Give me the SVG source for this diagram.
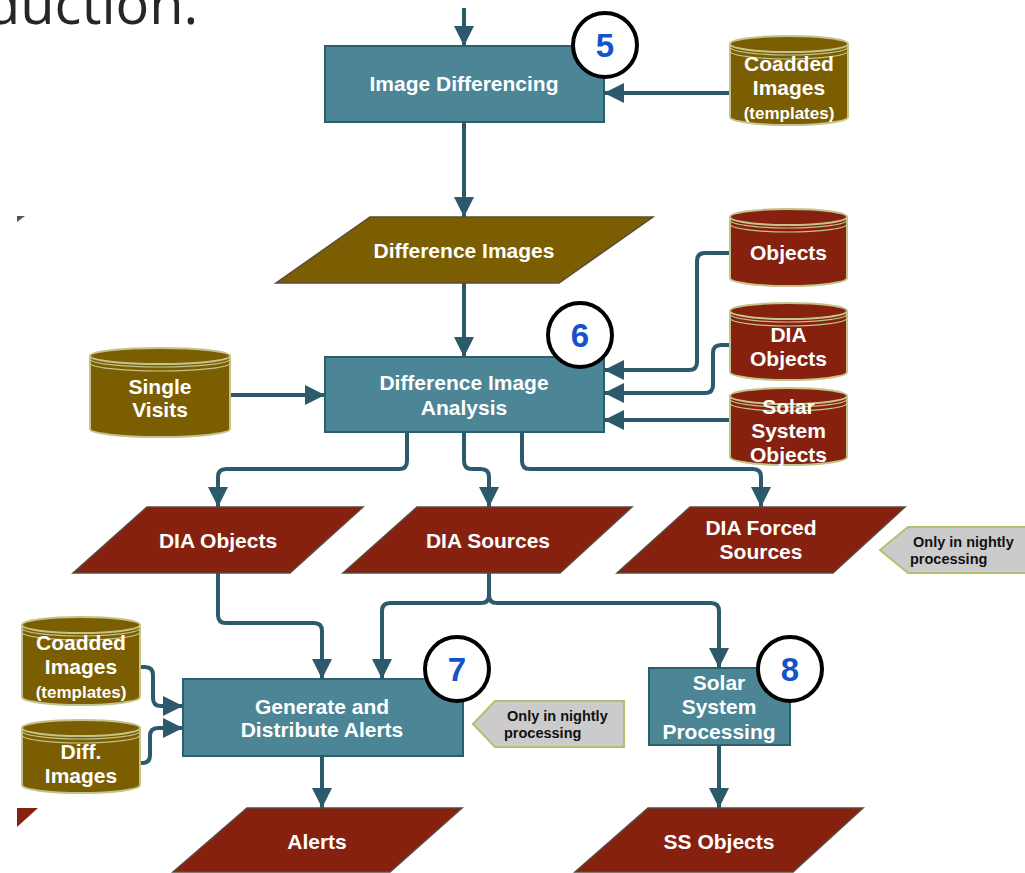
<svg xmlns="http://www.w3.org/2000/svg" width="1025" height="873" viewBox="0 0 1025 873">
<defs>
<marker id="ah" viewBox="0 0 20 20" refX="20" refY="10" markerWidth="20" markerHeight="20" markerUnits="userSpaceOnUse" orient="auto">
<path d="M0,0 L20,10 L0,20 Z" fill="#2c5a6a"/>
</marker>
<style>
.box{fill:#4b8596;stroke:#2c5f6e;stroke-width:2}
.brown{fill:#7c5e02;stroke:#5b4a3c;stroke-width:1.5}
.red{fill:#86210f;stroke:#5b4a3c;stroke-width:1.5}
.cyl-b{fill:#7c5e02;stroke:#c3c38a;stroke-width:2}
.cyl-r{fill:#86210f;stroke:#c3c38a;stroke-width:2}
.ring{fill:none;stroke:#c3c38a;stroke-width:1.2}
.t{font-family:"Liberation Sans",Arial,sans-serif;font-weight:bold;fill:#fff;font-size:21px;text-anchor:middle}
.ts{font-size:17px}
.badge{fill:#fff;stroke:#000;stroke-width:4}
.bn{font-family:"Liberation Sans",Arial,sans-serif;font-weight:bold;fill:#1652c8;font-size:33px;text-anchor:middle}
.call{fill:#cbcbcb;stroke:#b5bf6e;stroke-width:2}
.ct{font-family:"Liberation Sans",Arial,sans-serif;font-weight:bold;fill:#111;font-size:14.5px}
.c{fill:none;stroke:#2c5a6a;stroke-width:4;marker-end:url(#ah)}
</style>
</defs>

<text x="-14" y="24" font-family="'Open Sans',sans-serif" font-size="56" fill="#262626">duction.</text>
<polygon points="17,216 25,216 17,222" fill="#555"/>
<polygon points="17,808 38,808 17,827" fill="#86210f"/>

<g id="connectors">
<path class="c" d="M464,8 V46"/>
<path class="c" d="M730,93 H604"/>
<path class="c" d="M464,122 V217"/>
<path class="c" d="M464,283 V357"/>
<path class="c" d="M230,395 H325"/>
<path class="c" d="M730,253 H705 Q697,253 697,261 V362 Q697,370 689,370 H604"/>
<path class="c" d="M730,345 H721 Q713,345 713,353 V385 Q713,393 705,393 H604"/>
<path class="c" d="M730,420 H604"/>
<path class="c" d="M407,432 V461 Q407,469 399,469 H226 Q218,469 218,477 V507"/>
<path class="c" d="M464,432 V461 Q464,469 472,469 H481 Q489,469 489,477 V507"/>
<path class="c" d="M522,432 V461 Q522,469 530,469 H753 Q761,469 761,477 V507"/>
<path class="c" d="M218,573 V615 Q218,623 226,623 H314 Q322,623 322,631 V679"/>
<path class="c" d="M489,573 V595 Q489,603 481,603 H390 Q382,603 382,611 V679"/>
<path class="c" d="M489,595 Q489,603 497,603 H711 Q719,603 719,611 V668"/>
<path class="c" d="M140,667 H145 Q153,667 153,675 V698 Q153,706 161,706 H183"/>
<path class="c" d="M140,763 H142 Q150,763 150,755 V736 Q150,728 158,728 H183"/>
<path class="c" d="M322,756 V808"/>
<path class="c" d="M719,745 V808"/>
</g>

<g id="image-differencing">
<rect class="box" x="325" y="46" width="279" height="76"/>
<text class="t" x="464" y="91">Image Differencing</text>
</g>
<g id="badge5"><circle class="badge" cx="605" cy="45" r="32"/><text class="bn" x="605" y="57">5</text></g>

<g id="coadded-top">
<path class="cyl-b" d="M730,44 V117 A59,8 0 0 0 848,117 V44 Z"/>
<ellipse class="cyl-b" cx="789" cy="44" rx="59" ry="8"/>
<path class="ring" d="M730,47 A59,8 0 0 0 848,47 M730,51 A59,8 0 0 0 848,51"/>
<text class="t" x="789" y="71">Coadded</text>
<text class="t" x="789" y="95">Images</text>
<text class="t ts" x="789" y="119">(templates)</text>
</g>

<g id="difference-images">
<polygon class="brown" points="370,217 653,217 559,283 276,283"/>
<text class="t" x="464" y="258">Difference Images</text>
</g>

<g id="dia">
<rect class="box" x="325" y="357" width="279" height="75"/>
<text class="t" x="464" y="390">Difference Image</text>
<text class="t" x="464" y="415">Analysis</text>
</g>
<g id="badge6"><circle class="badge" cx="580" cy="335" r="32"/><text class="bn" x="580" y="347">6</text></g>

<g id="single-visits">
<path class="cyl-b" d="M90,356 V429 A70,8 0 0 0 230,429 V356 Z"/>
<ellipse class="cyl-b" cx="160" cy="356" rx="70" ry="8"/>
<path class="ring" d="M90,359 A70,8 0 0 0 230,359 M90,363 A70,8 0 0 0 230,363"/>
<text class="t" x="160" y="394">Single</text>
<text class="t" x="160" y="417">Visits</text>
</g>

<g id="objects">
<path class="cyl-r" d="M730,217 V278 A58.5,8 0 0 0 847,278 V217 Z"/>
<ellipse class="cyl-r" cx="788.5" cy="217" rx="58.5" ry="8"/>
<path class="ring" d="M730,220 A58.5,8 0 0 0 847,220 M730,224 A58.5,8 0 0 0 847,224"/>
<text class="t" x="788.5" y="260">Objects</text>
</g>

<g id="dia-objects-db">
<path class="cyl-r" d="M730,311 V372 A58.5,8 0 0 0 847,372 V311 Z"/>
<ellipse class="cyl-r" cx="788.5" cy="311" rx="58.5" ry="8"/>
<path class="ring" d="M730,314 A58.5,8 0 0 0 847,314 M730,318 A58.5,8 0 0 0 847,318"/>
<text class="t" x="788.5" y="342">DIA</text>
<text class="t" x="788.5" y="366">Objects</text>
</g>

<g id="solar-db">
<path class="cyl-r" d="M730,396 V457 A58.5,8 0 0 0 847,457 V396 Z"/>
<ellipse class="cyl-r" cx="788.5" cy="396" rx="58.5" ry="8"/>
<path class="ring" d="M730,399 A58.5,8 0 0 0 847,399 M730,403 A58.5,8 0 0 0 847,403"/>
<text class="t" x="788.5" y="414">Solar</text>
<text class="t" x="788.5" y="438">System</text>
<text class="t" x="788.5" y="462">Objects</text>
</g>

<g id="dia-objects">
<polygon class="red" points="147,507 363,507 290,573 73,573"/>
<text class="t" x="218" y="548">DIA Objects</text>
</g>
<g id="dia-sources">
<polygon class="red" points="417,507 632,507 560,573 343,573"/>
<text class="t" x="488" y="548">DIA Sources</text>
</g>
<g id="dia-forced">
<polygon class="red" points="690,507 905,507 833,573 617,573"/>
<text class="t" x="761" y="535">DIA Forced</text>
<text class="t" x="761" y="559">Sources</text>
</g>

<g id="callout1">
<polygon class="call" points="880,550 908,527 1030,527 1030,573 908,573"/>
<text class="ct" x="913" y="547">Only in nightly</text>
<text class="ct" x="910" y="564">processing</text>
</g>

<g id="coadded-low">
<path class="cyl-b" d="M22,625 V697 A59,8 0 0 0 140,697 V625 Z"/>
<ellipse class="cyl-b" cx="81" cy="625" rx="59" ry="8"/>
<path class="ring" d="M22,628 A59,8 0 0 0 140,628 M22,632 A59,8 0 0 0 140,632"/>
<text class="t" x="81" y="650">Coadded</text>
<text class="t" x="81" y="674">Images</text>
<text class="t ts" x="81" y="698">(templates)</text>
</g>

<g id="diff-images">
<path class="cyl-b" d="M22,728 V785 A59,8 0 0 0 140,785 V728 Z"/>
<ellipse class="cyl-b" cx="81" cy="728" rx="59" ry="8"/>
<path class="ring" d="M22,731 A59,8 0 0 0 140,731 M22,735 A59,8 0 0 0 140,735"/>
<text class="t" x="81" y="759">Diff.</text>
<text class="t" x="81" y="783">Images</text>
</g>

<g id="generate">
<rect class="box" x="183" y="679" width="280" height="77"/>
<text class="t" x="322" y="714">Generate and</text>
<text class="t" x="322" y="737">Distribute Alerts</text>
</g>
<g id="badge7"><circle class="badge" cx="457" cy="669" r="32"/><text class="bn" x="457" y="681">7</text></g>

<g id="callout2">
<polygon class="call" points="473,724 495,701 624,701 624,747 495,747"/>
<text class="ct" x="507" y="721">Only in nightly</text>
<text class="ct" x="504" y="738">processing</text>
</g>

<g id="solar-processing">
<rect class="box" x="649" y="668" width="141" height="77"/>
<text class="t" x="719" y="690">Solar</text>
<text class="t" x="719" y="714">System</text>
<text class="t" x="719" y="739">Processing</text>
</g>
<g id="badge8"><circle class="badge" cx="790" cy="669" r="32"/><text class="bn" x="790" y="681">8</text></g>

<g id="alerts">
<polygon class="red" points="247,808 462,808 390,872 173,872"/>
<text class="t" x="317" y="849">Alerts</text>
</g>
<g id="ss-objects">
<polygon class="red" points="648,808 863,808 793,872 575,872"/>
<text class="t" x="719" y="849">SS Objects</text>
</g>
</svg>
